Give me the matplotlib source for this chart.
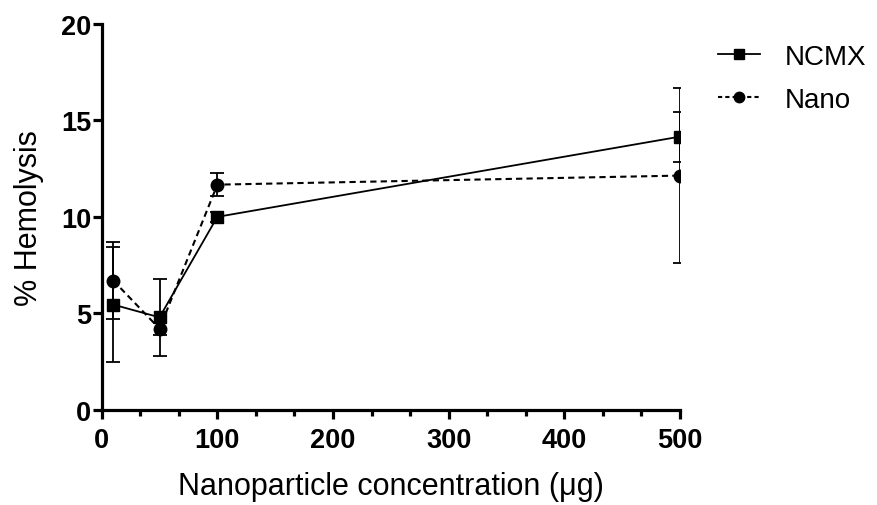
import matplotlib
matplotlib.use("Agg")
import matplotlib.pyplot as plt
from matplotlib.ticker import MultipleLocator
from matplotlib.lines import Line2D

plt.rcParams['font.family'] = ['Liberation Sans', 'DejaVu Sans']

conc = [10, 50, 100, 500]
ncmx = [5.45, 4.79, 10.0, 14.16]
ncmx_err = [3.0, 2.0, 0.25, 1.3]
nano = [6.7, 4.2, 11.67, 12.14]
nano_err = [2.0, 0.3, 0.6, 4.55]
xticks = [0, 100, 200, 300, 400, 500]
yticks = [0, 5, 10, 15, 20]

fig = plt.figure(figsize=(8.78, 5.06), dpi=100)
ax = fig.add_axes([0.1158, 0.1883, 0.6587, 0.7623])

ax.errorbar(conc, ncmx, yerr=ncmx_err, color='black', ls='-', lw=1.3,
            marker='s', ms=8.5, capsize=5, capthick=1.3, elinewidth=1.3, zorder=3)
ax.errorbar(conc, nano, yerr=nano_err, color='black', ls=(0, (3, 2)), lw=1.5,
            marker='o', ms=9, capsize=5, capthick=1.3, elinewidth=1.3, zorder=3)

ax.set_xlim(0, 500)
ax.set_ylim(0, 20)
ax.set_xticks(xticks)
ax.set_yticks(yticks)
ax.xaxis.set_minor_locator(MultipleLocator(100/3))
for s in ['top', 'right']:
    ax.spines[s].set_visible(False)
for s in ['left', 'bottom']:
    ax.spines[s].set_linewidth(2.3)
ax.tick_params(axis='both', which='major', length=6.5, width=2.3, labelsize=19.5)
ax.tick_params(axis='x', which='major', pad=6)
ax.tick_params(axis='y', which='major', pad=1)
ax.tick_params(axis='x', which='minor', length=4, width=2.3)
for lbl in ax.get_xticklabels() + ax.get_yticklabels():
    lbl.set_fontweight('bold')

ax.set_xlabel('Nanoparticle concentration (μg)', fontsize=22, labelpad=13)
ax.set_ylabel('% Hemolysis', fontsize=22, labelpad=12)

handles = [
    Line2D([], [], color='black', ls='-', lw=1.3, marker='s', ms=7),
    Line2D([], [], color='black', ls=(0, (2, 1.5)), lw=1.5, marker='o', ms=7.5),
]
leg = fig.legend(handles, ['NCMX', 'Nano'], loc='upper left',
                 bbox_to_anchor=(718/878, 1 - 45/506), bbox_transform=fig.transFigure,
                 frameon=False, fontsize=20, handlelength=1.5, handletextpad=0.9,
                 labelspacing=0.6, borderpad=0, borderaxespad=0)

fig.savefig('out.png', dpi=100)
